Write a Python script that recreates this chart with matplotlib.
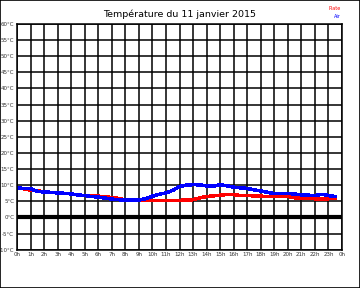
import matplotlib
matplotlib.use("Agg")
import matplotlib.pyplot as plt
from matplotlib.patches import Rectangle

# Relevés du 11 janvier 2015 (heures, °C)
hours = [0, 0.5, 1, 1.5, 2, 2.5, 3, 3.5, 4, 4.5, 5, 5.5, 6, 6.5, 7, 7.5,
         8, 8.5, 9, 9.5, 10, 10.5, 11, 11.5, 12, 12.5, 13, 13.5, 14, 14.5,
         15, 15.5, 16, 16.5, 17, 17.5, 18, 18.5, 19, 19.5, 20, 20.5, 21,
         21.5, 22, 22.5, 23, 23.5]
air = [9.2, 9.0, 8.9, 8.1, 7.9, 7.8, 7.6, 7.5, 7.3, 7.0, 6.8, 6.5, 6.3, 6.0,
       5.7, 5.5, 5.4, 5.4, 5.4, 5.8, 6.6, 7.2, 7.6, 8.4, 9.6, 10.0, 10.2,
       10.1, 9.8, 9.7, 10.2, 9.8, 9.4, 9.2, 9.0, 8.6, 8.2, 7.8, 7.4, 7.4,
       7.4, 7.3, 7.0, 6.9, 6.8, 7.2, 6.8, 6.5]
plate = [9.0, 8.9, 8.5, 8.3, 7.9, 7.8, 7.6, 7.5, 7.3, 7.0, 6.8, 6.6, 6.6,
         6.4, 6.2, 5.9, 5.5, 5.4, 5.3, 5.3, 5.3, 5.2, 5.2, 5.2, 5.3, 5.4,
         5.5, 6.1, 6.5, 6.7, 6.9, 7.1, 7.1, 6.8, 6.8, 6.7, 6.6, 6.5, 6.5,
         6.5, 6.5, 6.1, 6.1, 5.9, 5.8, 5.8, 5.8, 5.9]

x_ticks = list(range(25))
x_labels = [f"{h % 24}h" for h in x_ticks]
y_ticks = list(range(-10, 65, 5))
y_labels = [f"{t}°C" for t in y_ticks]

fig = plt.figure(figsize=(3.6, 2.88), dpi=100)
fig.patches.append(Rectangle((0, 0), 1, 1, transform=fig.transFigure,
                             fill=False, edgecolor="black", linewidth=1.2))
ax = fig.add_axes([17 / 360, 1 - 249.7 / 288, 325 / 360, 225.7 / 288])

ax.set_xlim(0, 24)
ax.set_ylim(-10, 60)
ax.set_xticks(x_ticks)
ax.set_xticklabels(x_labels, fontsize=4, color="#333333")
ax.set_yticks(y_ticks)
ax.set_yticklabels(y_labels, fontsize=4, color="#333333")
ax.tick_params(length=0, pad=2)
ax.grid(True, color="black", linewidth=1.1)
ax.set_axisbelow(True)
for s in ax.spines.values():
    s.set_linewidth(1.1)

ax.axhline(0, color="black", linewidth=3)

ax.plot(hours, plate, color="red", linewidth=1.8, antialiased=False)
ax.plot(hours, air, color="blue", linewidth=1.8, antialiased=False)

fig.text(0.5, 1 - 14 / 288, "Température du 11 janvier 2015",
         ha="center", va="center", fontsize=6.8)
fig.text(341 / 360, 1 - 8 / 288, "Plate", color="red", ha="right",
         va="center", fontsize=3.5)
fig.text(341 / 360, 1 - 16 / 288, "Air", color="blue", ha="right",
         va="center", fontsize=3.5)

fig.savefig("out.png", dpi=100)
